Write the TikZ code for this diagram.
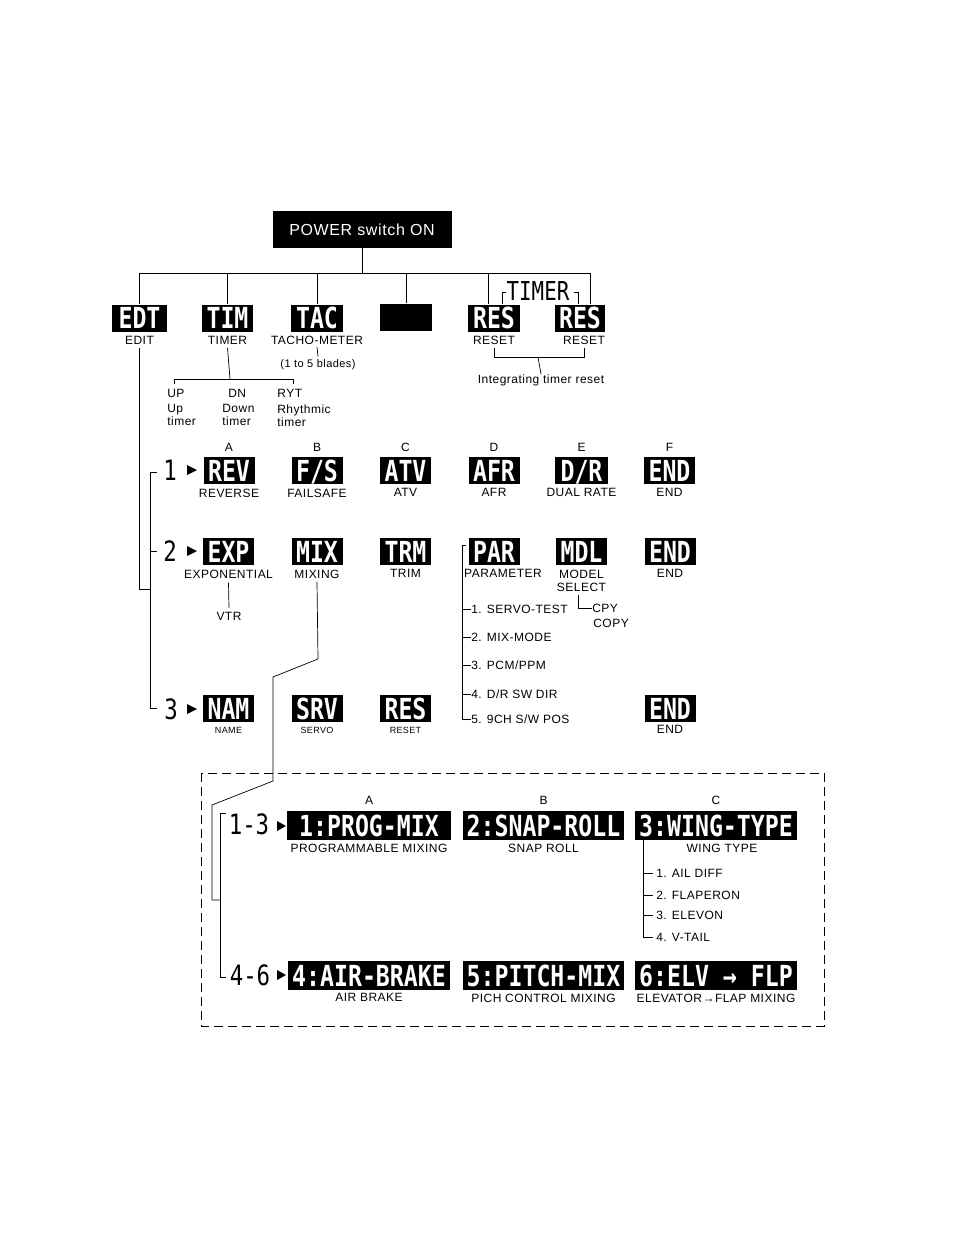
\documentclass[tikz,border=0pt]{standalone}
\usepackage{fontspec}
\setmainfont{Liberation Sans}[LetterSpace=4]
\newfontfamily\lcdfont[FakeStretch=0.8]{DejaVu Sans Mono}
\usetikzlibrary{positioning}

\newcommand\lcdtext{\lcdfont\bfseries\fontsize{29}{29}\selectfont}
\newcommand\bignum{\lcdfont\fontsize{28}{28}\selectfont}

\tikzset{
  lcd/.style={fill=black, text=white, font=\lcdtext, inner sep=0pt,
    text height=21pt, text depth=0pt, minimum height=27pt, minimum width=#1},
  lcd/.default=51pt,
  wide/.style={lcd=#1, minimum height=29pt},
  lbl/.style={font=\fontsize{12}{13}\selectfont, inner sep=0pt},
  tinylbl/.style={font=\fontsize{9}{10}\selectfont, inner sep=0pt},
  num/.style={font=\bignum, inner sep=0pt},
}

\begin{document}
\begin{tikzpicture}[x=1pt, y=-1pt, line width=0.7pt]
  \useasboundingbox (0,0) rectangle (954,1235);

  % power switch and first level
  \node[lcd=179pt, minimum height=37pt, text height=11pt, font=\fontsize{16}{16}\selectfont] (power) at (362,229.5) {POWER switch ON};

  \node[lcd=55pt] (edt) at (139.5,318) {EDT};
  \node[lcd] (tim) at (227.5,318) {TIM};
  \node[lcd=52pt] (tac) at (317,318) {TAC};
  \node[lcd=52pt] (blank) at (406,317) {};
  \node[lcd=52pt] (res1) at (494,318) {RES};
  \node[lcd=50pt] (res2) at (580,318) {RES};
  \node[num, font=\lcdfont\fontsize{26}{26}\selectfont] (timer) at (538,291) {TIMER};

  \coordinate (busL) at (139.5,273);
  \coordinate (busR) at (590,273);
  \draw (busL) -- (busR);
  \draw (power.south) -- (power.south |- busL);
  \foreach \n in {edt,tim,tac,blank}
    \draw (\n.north) -- (\n.north |- busL);
  \draw ([xshift=-6pt]res1.north) -- ++(0,-31);
  \draw ([xshift=10pt]res2.north) -- (busR);
  \draw ([xshift=8pt]res1.north) -- ++(0,-12) -- ++(4,0);
  \draw ([xshift=-2pt]res2.north) -- ++(0,-12) -- ++(-4,0);

  \node[lbl, below=4pt of edt] (edtl) {EDIT};
  \node[lbl, below=4pt of tim] (timl) {TIMER};
  \node[lbl, below=4pt of tac] (tacl) {TACHO-METER};
  \node[lbl, below=4pt of res1] (resl1) {RESET};
  \node[lbl, below=4pt of res2, xshift=4pt] (resl2) {RESET};

  % tacho and timer details
  \node[lbl, font=\fontsize{11}{12}\selectfont] (blades) at (318,365) {(1 to 5 blades)};
  \draw ([yshift=-2pt]tacl.south) -- ([yshift=3pt]blades.north);

  \node[lbl, anchor=west] (up) at (167,393) {UP};
  \node[lbl, anchor=west] (dn) at (228,393) {DN};
  \node[lbl, anchor=west] (ryt) at (277,393) {RYT};
  \node[lbl, anchor=north west, align=left] (upt) at (167,404) {Up\\timer};
  \node[lbl, anchor=north west, align=left] (dnt) at (222,404) {Down\\timer};
  \node[lbl, anchor=north west, align=left] (rytt) at (277,404) {Rhythmic\\timer};
  \coordinate (tbus) at (230,379);
  \draw ([yshift=-3pt]timl.south) -- (tbus);
  \draw (174,384) -- (174,379) -- (293,379) -- (293,384);

  \node[lbl] (intg) at (541,380) {Integrating timer reset};
  \draw ([yshift=-3pt]resl1.south) -- ++(0,9) -| ([yshift=-3pt]resl2.south);
  \draw (538,357) -- (intg.north);

  % edit menu bracket
  \draw ([yshift=-3pt]edtl.south) |- (150,589);
  \draw (157,472) -| (150,708) -- (157,708);
  \draw (150,551) -- (157,551);
  \node[num] (n1) at (170,470) {1};
  \node[num] (n2) at (170,551) {2};
  \node[num] (n3) at (171,709) {3};
  \foreach \y in {470,551,709}
    \fill (187,\y-5) -- (197,\y) -- (187,\y+5) -- cycle;

  % page 1
  \node[lcd] (rev) at (229,470.5) {REV};
  \node[lcd] (fs) at (317,470.5) {F/S};
  \node[lcd] (atv) at (405.5,470.5) {ATV};
  \node[lcd] (afr) at (494,470.5) {AFR};
  \node[lcd=53pt] (dr) at (581.5,470.5) {D/R};
  \node[lcd] (end1) at (669.5,470.5) {END};
  \foreach \n/\t in {rev/A,fs/B,atv/C,afr/D,dr/E,end1/F}
    \node[lbl, above=5pt of \n] {\t};
  \node[lbl, below=4pt of rev] (revl) {REVERSE};
  \node[lbl, below=4pt of fs] (fsl) {FAILSAFE};
  \node[lbl, below=4pt of atv] (atvl) {ATV};
  \node[lbl, below=4pt of afr] (afrl) {AFR};
  \node[lbl, below=4pt of dr] (drl) {DUAL RATE};
  \node[lbl, below=4pt of end1] (endl1) {END};

  % page 2
  \node[lcd] (exp) at (228.5,551.5) {EXP};
  \node[lcd] (mix) at (317,551.5) {MIX};
  \node[lcd] (trm) at (405.5,551.5) {TRM};
  \node[lcd] (par) at (494,551.5) {PAR};
  \node[lcd] (mdl) at (581.5,551.5) {MDL};
  \node[lcd] (end2) at (670,551.5) {END};
  \node[lbl, below=4pt of exp] (expl) {EXPONENTIAL};
  \node[lbl, below=4pt of mix] (mixl) {MIXING};
  \node[lbl, below=4pt of trm] (trml) {TRIM};
  \node[lbl, below=4pt of par, xshift=9pt] (parl) {PARAMETER};
  \node[lbl, below=4pt of mdl, align=center] (mdll) {MODEL\\SELECT};
  \node[lbl, below=4pt of end2] (endl2) {END};

  \node[lbl] (vtr) at (229,616) {VTR};
  \draw ([yshift=-4pt]expl.south) -- ([yshift=4pt]vtr.north);

  \node[lbl, anchor=west] (cpy) at (592,608) {CPY};
  \node[lbl, anchor=west] (copy) at (593,623) {COPY};
  \draw (578,595) |- (cpy.west);

  \draw (466,545) -| (462,719);
  \foreach \y/\t [count=\i] in {609/{1. SERVO-TEST},637/{2. MIX-MODE},665/{3. PCM/PPM},694/{4. D/R SW DIR},719/{5. 9CH S/W POS}} {
    \node[lbl, anchor=west] (p\i) at (471,\y) {\t};
    \draw (462,\y) -- (p\i.west);
  }

  % page 3
  \node[lcd] (nam) at (228.5,708.5) {NAM};
  \node[lcd] (srv) at (317,708.5) {SRV};
  \node[lcd] (res3) at (405.5,708.5) {RES};
  \node[lcd] (end3) at (670,708.5) {END};
  \node[tinylbl, below=5pt of nam] (naml) {NAME};
  \node[tinylbl, below=5pt of srv] (srvl) {SERVO};
  \node[tinylbl, below=5pt of res3] (resl3) {RESET};
  \node[lbl, below=3pt of end3] (endl3) {END};

  % mixing menu
  \draw[dash pattern=on 9pt off 5pt] (201,773) rectangle (824,1026);
  \draw ([yshift=-3pt]mixl.south) -- (318,659) -- (273,677) -- (273,781) -- (212,805) |- (220,900);
  \draw (226,813) -| (220,977) -- (226,977);
  \node[num] (n13) at (249,824) {1-3};
  \node[num] (n46) at (250,975) {4-6};
  \foreach \y in {826,975}
    \fill (277,\y-5) -- (286,\y) -- (277,\y+5) -- cycle;

  \node[wide=164pt] (pm) at (369,825.5) {1:PROG-MIX};
  \node[wide=161pt] (sr) at (543.5,825.5) {2:SNAP-ROLL};
  \node[wide=162pt] (wt) at (716,825.5) {3:WING-TYPE};
  \foreach \n/\t in {pm/A,sr/B,wt/C}
    \node[lbl, above=6pt of \n] {\t};
  \node[lbl, below=3pt of pm] (pml) {PROGRAMMABLE MIXING};
  \node[lbl, below=3pt of sr] (srl) {SNAP ROLL};
  \node[lbl, below=3pt of wt, xshift=6pt] (wtl) {WING TYPE};

  \draw ([xshift=-73pt]wt.south) -- (643,937);
  \foreach \y/\t [count=\i] in {873/{1. AIL DIFF},895/{2. FLAPERON},915/{3. ELEVON},937/{4. V-TAIL}} {
    \node[lbl, anchor=west] (w\i) at (656,\y) {\t};
    \draw (643,\y) -- ([xshift=-3pt]w\i.west);
  }

  \node[wide=162pt] (ab) at (369,975.5) {4:AIR-BRAKE};
  \node[wide=161pt] (pt) at (543.5,975.5) {5:PITCH-MIX};
  \node[wide=162pt] (ef) at (716,975.5) {6:ELV → FLP};
  \node[lbl, below=3pt of ab] (abl) {AIR BRAKE};
  \node[lbl, below=3pt of pt] (ptl) {PICH CONTROL MIXING};
  \node[lbl, below=3pt of ef] (efl) {ELEVATOR→FLAP MIXING};
\end{tikzpicture}
\end{document}
